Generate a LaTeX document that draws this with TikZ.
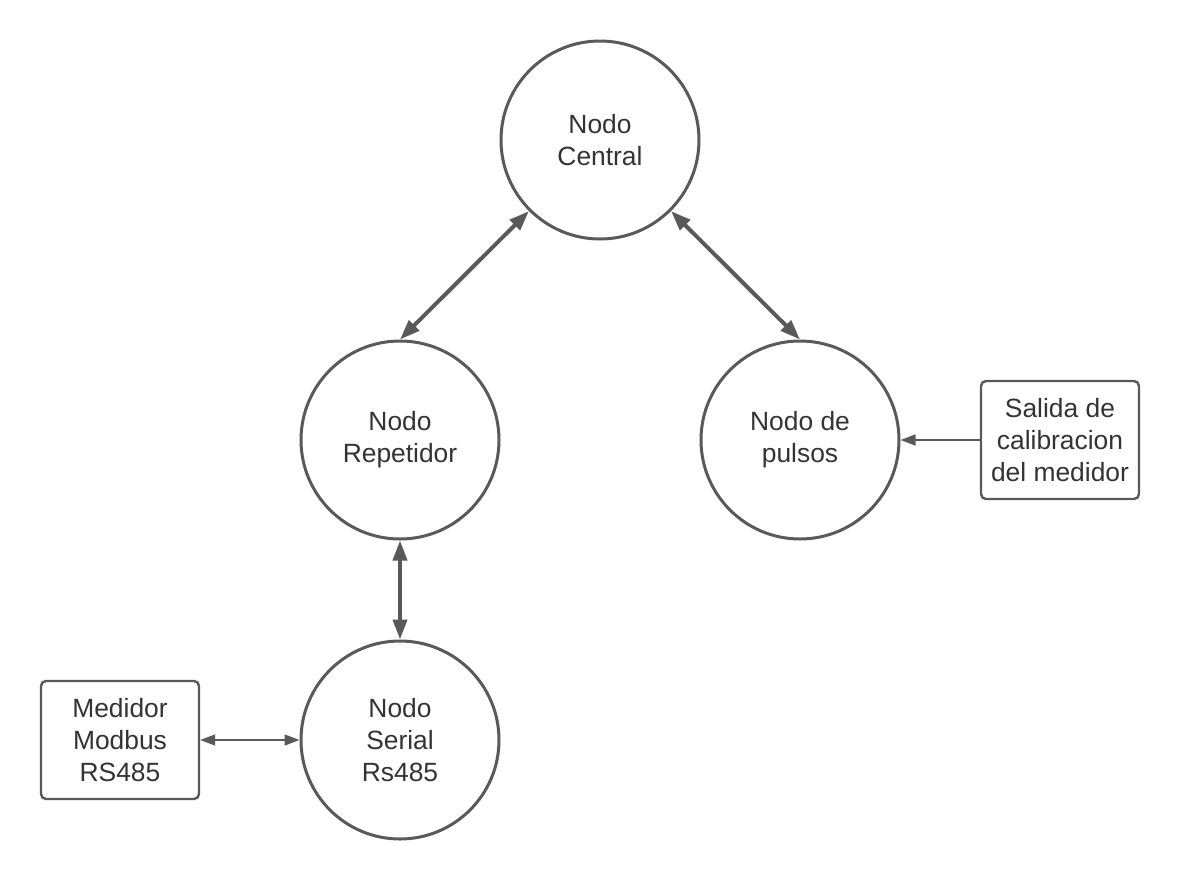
\documentclass[tikz,border=0pt]{standalone}
\usepackage{fontspec}
\setmainfont{Liberation Sans}
\usetikzlibrary{arrows.meta}
\definecolor{linegray}{HTML}{595959}
\definecolor{textgray}{HTML}{333333}

\begin{document}
\begin{tikzpicture}[x=0.5pt,y=-0.5pt,
  nodo/.style={circle,draw=linegray,line width=1.5pt,minimum size=99pt,inner sep=0pt,
    align=center,text=textgray,font=\fontsize{13.2}{16}\selectfont},
  caja/.style={rectangle,rounded corners=2.5pt,draw=linegray,line width=1.2pt,
    minimum width=79pt,minimum height=59pt,inner sep=0pt,
    align=center,text=textgray,font=\fontsize{13.2}{16}\selectfont},
  enlace/.style={draw=linegray,line width=2pt,{Triangle[length=10pt,width=7pt]}-{Triangle[length=10pt,width=7pt]}},
  fino/.style={draw=linegray,line width=0.7pt,-{Triangle[length=7.5pt,width=5.5pt]}}]
\useasboundingbox (0,0) rectangle (1180,880);

\node[nodo] (central) at (600,140) {Nodo\\Central};
\node[nodo] (rep) at (400,440) {Nodo\\Repetidor};
\node[nodo] (pulsos) at (800,440) {Nodo de\\pulsos};
\node[nodo] (serial) at (400,740) {Nodo\\Serial\\Rs485};

\node[caja] (salida) at (1060,440) {Salida de\\calibracion\\del medidor};
\node[caja] (medidor) at (120,740) {Medidor\\Modbus\\RS485};

\draw[enlace] (central.225) -- (rep.north);
\draw[enlace] (central.315) -- (pulsos.north);
\draw[enlace] (rep.south) -- (serial.north);

\draw[fino] (salida.west) -- (pulsos.east);
\draw[fino,{Triangle[length=7.5pt,width=5.5pt]}-{Triangle[length=7.5pt,width=5.5pt]}] (medidor.east) -- (serial.west);
\end{tikzpicture}
\end{document}
